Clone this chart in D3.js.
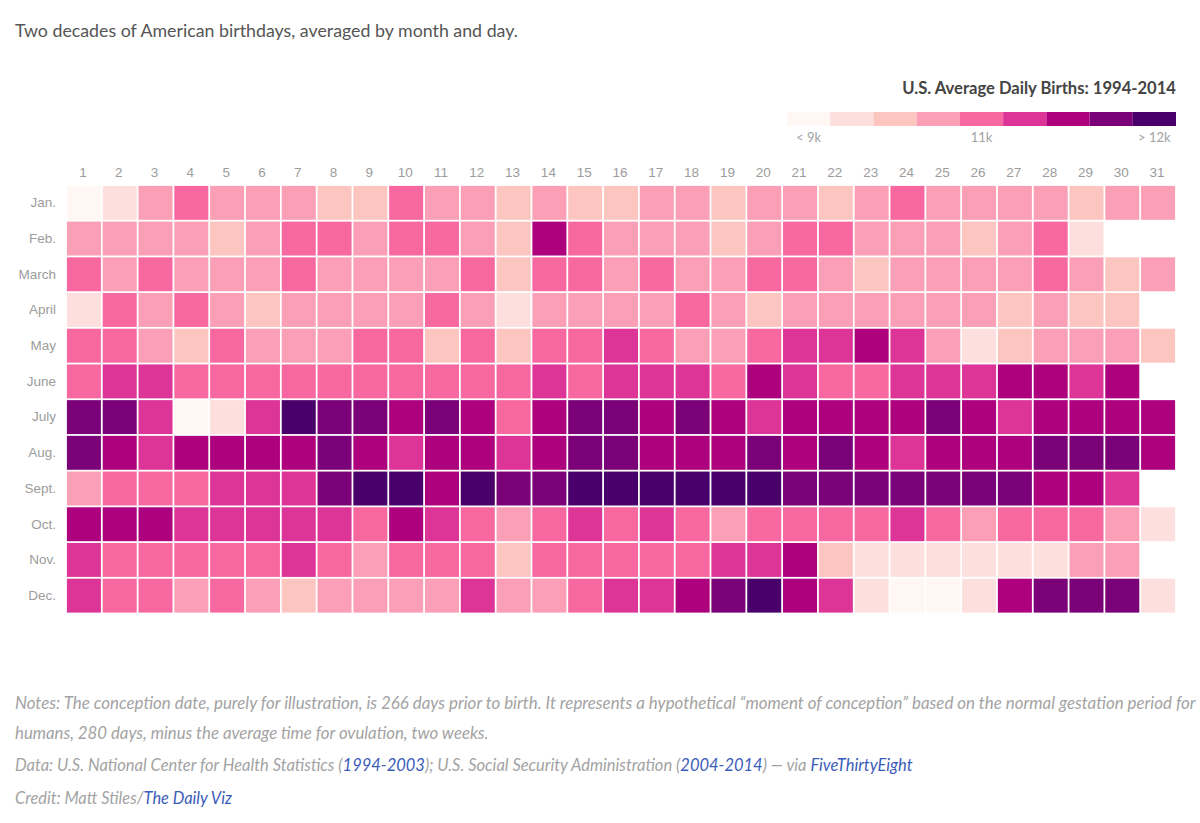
<!DOCTYPE html>
<html>
<head>
<meta charset="utf-8">
<script src="https://cdn.jsdelivr.net/npm/d3@7"></script>
<style>
  html, body { margin: 0; padding: 0; background: #fff; }
  svg { display: block; font-family: Lato, sans-serif; }
  .tick text { fill: #9c9c9c; font-size: 13.5px; }
  .note { fill: #a3a3a3; font-style: italic; }
  .note .link { fill: #3b5cb8; }
</style>
</head>
<body>
<svg id="chart" width="1200" height="823"></svg>
<script>
var months = ["Jan.", "Feb.", "March", "April", "May", "June", "July", "Aug.", "Sept.", "Oct.", "Nov.", "Dec."]
var days = d3.range(1, 32)

// estimated from the cell colours, so these are only good to one colour step
var jan = [8800, 9300, 10300, 10900, 10300, 10300, 10300, 9800, 9800, 10900, 10300, 10300, 9800, 10300, 9800, 9800, 10300, 10300, 9800, 10300, 10300, 9800, 10300, 10900, 10300, 10300, 10300, 10300, 9800, 10300, 10300]
var feb = [10300, 10300, 10300, 10300, 9800, 10300, 10900, 10900, 10300, 10900, 10900, 10300, 9800, 11500, 10900, 10300, 10300, 10300, 9800, 10300, 10900, 10900, 10300, 10300, 10300, 9800, 10300, 10900, 9300]
var mar = [10900, 10300, 10900, 10300, 10300, 10300, 10900, 10300, 10300, 10300, 10300, 10900, 9800, 10900, 10900, 10300, 10900, 10300, 10300, 10900, 10900, 10300, 9800, 10300, 10300, 10300, 10300, 10900, 10300, 9800, 10300]
var apr = [9300, 10900, 10300, 10900, 10300, 9800, 10300, 10300, 10300, 10300, 10900, 10300, 9300, 10300, 10300, 10300, 10300, 10900, 10300, 9800, 10300, 10300, 10300, 10300, 10300, 10300, 9800, 10300, 9800, 9800]
var may = [10900, 10900, 10300, 9800, 10900, 10300, 10300, 10300, 10900, 10900, 9800, 10900, 9800, 10900, 10900, 11200, 10900, 10300, 10300, 10900, 11200, 11200, 11500, 11200, 10300, 9300, 9800, 10300, 10300, 10300, 9800]
var jun = [10900, 11200, 11200, 10900, 10900, 10900, 10900, 10900, 10900, 10900, 10900, 10900, 10900, 11200, 10900, 11200, 11200, 11200, 10900, 11500, 11200, 10900, 10900, 11200, 11200, 11200, 11500, 11500, 11200, 11500]
var jul = [11800, 11800, 11200, 8800, 9300, 11200, 12200, 11800, 11800, 11500, 11800, 11500, 10900, 11500, 11800, 11800, 11500, 11800, 11500, 11200, 11500, 11500, 11500, 11500, 11800, 11500, 11200, 11500, 11500, 11500, 11500]
var aug = [11800, 11500, 11200, 11500, 11500, 11500, 11500, 11800, 11500, 11200, 11500, 11500, 11200, 11500, 11800, 11800, 11500, 11500, 11500, 11800, 11500, 11800, 11500, 11200, 11500, 11500, 11500, 11800, 11800, 11800, 11500]
var sep = [10300, 10900, 10900, 10900, 11200, 11200, 11200, 11800, 12200, 12200, 11500, 12200, 11800, 11800, 12200, 12200, 12200, 12200, 12200, 12200, 11800, 11800, 11800, 11800, 11800, 11800, 11800, 11500, 11500, 11200]
var oct = [11500, 11500, 11500, 11200, 11200, 11200, 11200, 11200, 10900, 11500, 11200, 10900, 10300, 10900, 11200, 10900, 11200, 10900, 10300, 10900, 10900, 10900, 10900, 11200, 10900, 10300, 10900, 10900, 10900, 10300, 9300]
var nov = [11200, 10900, 10900, 10900, 10900, 10900, 11200, 10900, 10300, 10900, 10900, 10900, 9800, 10900, 10900, 10900, 10900, 10900, 11200, 11200, 11500, 9800, 9300, 9300, 9300, 9300, 9300, 9300, 10300, 10300]
var dec = [11200, 10900, 10900, 10300, 10900, 10300, 9800, 10300, 10300, 10300, 10300, 11200, 10300, 10300, 10900, 11200, 11200, 11500, 11800, 12200, 11500, 11200, 9300, 8800, 8800, 9300, 11500, 11800, 11800, 11800, 9300]
var births = [jan, feb, mar, apr, may, jun, jul, aug, sep, oct, nov, dec]

var thresholds = [9000, 9600, 10000, 10600, 11050, 11350, 11650, 12000]
var colors = ["#fff7f3", "#fde0dd", "#fcc5c0", "#fa9fb5", "#f768a1", "#dd3497", "#ae017e", "#7a0177", "#49006a"]
var legendLabels = ["< 9k", "", "", "", "11k", "", "", "", "> 12k"]

var svg = d3.select("#chart")
var color = d3.scaleThreshold().domain(thresholds).range(colors)

var x = d3.scaleBand().domain(days).range([66, 1176]).paddingInner(0.05).paddingOuter(0.025)
var y = d3.scaleBand().domain(months).range([185, 613.5]).paddingInner(0.05).paddingOuter(0.025)

svg.append("text")
    .attr("x", 15)
    .attr("y", 37)
    .attr("fill", "#555")
    .style("font-size", "17.8px")
    .text("Two decades of American birthdays, averaged by month and day.")

// legend
var legendX = d3.scaleBand().domain(d3.range(colors.length)).range([787, 1176])

svg.append("text")
    .attr("x", 1176)
    .attr("y", 94)
    .attr("text-anchor", "end")
    .attr("fill", "#444")
    .style("font-size", "16.6px")
    .style("font-weight", 700)
    .text("U.S. Average Daily Births: 1994-2014")

svg.append("g")
    .selectAll("rect")
    .data(colors)
    .enter().append("rect")
    .attr("x", (d, i) => legendX(i))
    .attr("y", 112)
    .attr("width", legendX.bandwidth())
    .attr("height", 14)
    .attr("fill", d => d)

svg.append("g")
    .selectAll("text")
    .data(legendLabels)
    .enter().append("text")
    .attr("x", (d, i) => legendX(i) + legendX.bandwidth() / 2)
    .attr("y", 142)
    .attr("text-anchor", "middle")
    .attr("fill", "#a3a3a3")
    .style("font-size", "13px")
    .text(d => d)

// axes
var xAxis = svg.append("g")
    .attr("transform", "translate(-1,177)")
    .call(d3.axisTop(x).tickSize(0).tickPadding(0))
xAxis.select(".domain").remove()

var yAxis = svg.append("g")
    .attr("transform", "translate(56,0)")
    .call(d3.axisLeft(y).tickSize(0).tickPadding(0))
yAxis.select(".domain").remove()

// cells
var rows = svg.append("g")
    .selectAll("g")
    .data(births)
    .enter().append("g")
    .attr("transform", (d, i) => "translate(0," + y(months[i]) + ")")

rows.selectAll("rect")
    .data(d => d)
    .enter().append("rect")
    .attr("x", (d, i) => x(days[i]))
    .attr("width", x.bandwidth())
    .attr("height", y.bandwidth())
    .attr("fill", d => color(d))

// notes
var notes = [
    [["Notes: The conception date, purely for illustration, is 266 days prior to birth. It represents a hypothetical \u201cmoment of conception\u201d based on the normal gestation period for", false]],
    [["humans, 280 days, minus the average time for ovulation, two weeks.", false]],
    [["Data: U.S. National Center for Health Statistics (", false], ["1994-2003", true], ["); U.S. Social Security Administration (", false], ["2004-2014", true], [") \u2014 via ", false], ["FiveThirtyEight", true]],
    [["Credit: Matt Stiles/", false], ["The Daily Viz", true]]
]
var noteY = [709, 739, 771, 804]
var noteSize = [16.9, 16.8, 16.5, 16.4]

notes.forEach(function (line, i) {
    var t = svg.append("text")
        .attr("class", "note")
        .attr("x", 15)
        .attr("y", noteY[i])
        .style("font-size", noteSize[i] + "px")
    line.forEach(function (part) {
        t.append("tspan").attr("class", part[1] ? "link" : null).text(part[0])
    })
})
</script>
</body>
</html>
